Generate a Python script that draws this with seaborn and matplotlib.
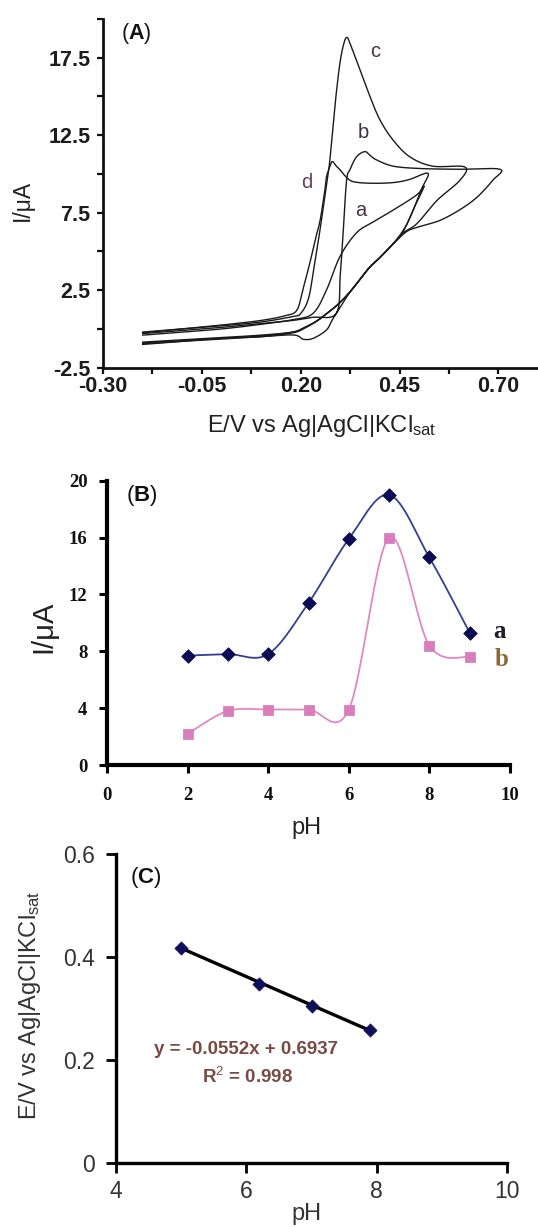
import numpy as np
import pandas as pd
import matplotlib
matplotlib.use("Agg")
import matplotlib.pyplot as plt
import seaborn as sns

# ---------------- data ----------------
# Panel A: cyclic voltammograms (E in V, I in uA), forward then reverse scan
cv_a_E = [-0.20, -0.10, 0.00, 0.10, 0.18, 0.231, 0.265, 0.299, 0.341, 0.383, 0.434, 0.493, 0.512,
          0.49, 0.465, 0.434, 0.40, 0.375, 0.35, 0.325, 0.295, 0.266, 0.24, 0.21, 0.18, 0.10, 0.0, -0.10, -0.20]
cv_a_I = [-0.4, -0.2, 0.0, 0.3, 0.6, 1.0, 2.5, 4.66, 6.2, 6.9, 7.67, 8.64, 9.2,
          8.0, 6.6, 5.5, 4.6, 4.0, 3.2, 2.4, 1.6, 1.0, 0.5, 0.1, -0.2, -0.45, -0.6, -0.75, -0.9]

cv_b_E = [-0.20, -0.10, 0.00, 0.10, 0.18, 0.23, 0.29, 0.30, 0.308, 0.316, 0.325, 0.341, 0.362, 0.375, 0.392,
          0.434, 0.50, 0.60, 0.704,
          0.686, 0.646, 0.603, 0.552, 0.50, 0.469, 0.434, 0.40, 0.375, 0.35, 0.325, 0.30, 0.28, 0.265,
          0.232, 0.207, 0.182, 0.10, 0.0, -0.10, -0.20]
cv_b_I = [-0.3, -0.1, 0.1, 0.35, 0.55, 0.75, 1.0, 3.5, 6.5, 9.6, 10.3, 11.1, 11.44, 11.2, 10.9,
          10.5, 10.35, 10.3, 10.3,
          9.6, 8.5, 7.7, 7.0, 6.6, 6.3, 5.5, 4.6, 4.0, 3.2, 2.4, 1.4, 0.6, -0.07,
          -0.6, -0.67, -0.39, -0.5, -0.65, -0.8, -0.95]

cv_c_E = [-0.20, -0.10, 0.00, 0.10, 0.18, 0.20, 0.22, 0.235, 0.25, 0.264, 0.272, 0.28, 0.289, 0.30, 0.31,
          0.317, 0.325, 0.35, 0.375, 0.40, 0.433, 0.476, 0.534, 0.615,
          0.603, 0.545, 0.494, 0.459, 0.434, 0.40, 0.375, 0.35, 0.325, 0.295, 0.266, 0.24, 0.21, 0.18,
          0.10, 0.0, -0.10, -0.20]
cv_c_I = [-0.2, 0.0, 0.2, 0.45, 0.8, 1.0, 2.0, 4.2, 6.6, 9.1, 10.5, 12.6, 15.0, 17.3, 18.5,
          18.8, 18.4, 16.7, 15.0, 13.5, 12.2, 11.1, 10.5, 10.45,
          9.6, 8.3, 6.8, 6.2, 5.5, 4.6, 4.0, 3.2, 2.4, 1.6, 1.0, 0.5, 0.05, -0.25,
          -0.5, -0.6, -0.8, -1.0]

cv_d_E = [-0.20, -0.10, 0.00, 0.10, 0.16, 0.19, 0.205, 0.223, 0.237, 0.249, 0.261, 0.265, 0.274, 0.28,
          0.29, 0.30, 0.315, 0.333, 0.375, 0.434, 0.476, 0.522,
          0.505, 0.48, 0.455, 0.434, 0.40, 0.375, 0.35, 0.325, 0.295, 0.266, 0.24, 0.21, 0.18,
          0.10, 0.0, -0.10, -0.20]
cv_d_I = [-0.25, 0.0, 0.25, 0.55, 0.85, 1.2, 2.5, 4.25, 5.8, 7.0, 8.95, 9.8, 10.5, 10.8,
          10.5, 10.25, 9.8, 9.5, 9.4, 9.44, 9.65, 10.04,
          9.0, 7.4, 6.1, 5.5, 4.6, 4.0, 3.2, 2.4, 1.6, 1.0, 0.5, 0.1, -0.2,
          -0.4, -0.55, -0.7, -0.85]

cv_names = ["a", "b", "c", "d"]

# Panel B: peak current vs pH
ph_b = [2, 3, 4, 5, 6, 7, 8, 9]
current_a = [7.7, 7.8, 7.8, 11.4, 15.9, 19.0, 14.6, 9.3]
current_b = [2.2, 3.8, 3.9, 3.9, 3.9, 16.0, 8.4, 7.6]

# Panel C: peak potential vs pH
ph_c = [5.0, 6.2, 7.0, 7.9]
potential_c = [0.418, 0.349, 0.305, 0.258]
fit_slope = -0.0552
fit_intercept = 0.6937
fit_r2 = 0.998

# tick labels
a_xticks = [-0.30, -0.05, 0.20, 0.45, 0.70]
a_yticks = [-2.5, 2.5, 7.5, 12.5, 17.5]
b_xticks = [0, 2, 4, 6, 8, 10]
b_yticks = [0, 4, 8, 12, 16, 20]
c_xticks = [4, 6, 8, 10]
c_yticks = [0, 0.2, 0.4, 0.6]


def catmull(x, y, n=25):
    P = np.column_stack([x, y]).astype(float)
    P = np.vstack([P[0], P, P[-1]])
    out = []
    t = np.linspace(0, 1, n)[:, None]
    for i in range(1, len(P) - 2):
        p0, p1, p2, p3 = P[i - 1], P[i], P[i + 1], P[i + 2]
        c = 0.5 * ((2 * p1) + (-p0 + p2) * t + (2 * p0 - 5 * p1 + 4 * p2 - p3) * t ** 2
                   + (-p0 + 3 * p1 - 3 * p2 + p3) * t ** 3)
        out.append(c if i == 1 else c[1:])
    arr = np.vstack(out)
    return arr[:, 0], arr[:, 1]


# ---------------- style ----------------
sns.set_theme(style="ticks")
plt.rcParams["font.family"] = ["Liberation Sans", "DejaVu Sans"]
plt.rcParams["mathtext.fontset"] = "custom"
plt.rcParams["mathtext.rm"] = "Liberation Sans"
plt.rcParams["mathtext.bf"] = "Liberation Sans:bold"
plt.rcParams["mathtext.it"] = "Liberation Sans:italic"

W, H = 538, 1227
fig = plt.figure(figsize=(W / 100, H / 100), dpi=100)


def px_axes(left, top, right, bottom):
    return fig.add_axes([left / W, 1 - bottom / H, (right - left) / W, (bottom - top) / H])


def ftext(x, y, s, **kw):
    fig.text(x / W, 1 - y / H, s, **kw)


# ---------------- Panel A ----------------
axA = px_axes(103, 18.9, 538, 367.7)
cv_sets = [(cv_a_E, cv_a_I), (cv_b_E, cv_b_I), (cv_c_E, cv_c_I), (cv_d_E, cv_d_I)]
for name, (E, I) in zip(cv_names, cv_sets):
    xs, ys = catmull(E, I, n=8)
    sns.lineplot(x=xs, y=ys, sort=False, estimator=None, color="#1a1a1a", lw=1.0, ax=axA)
axA.set_xlim(-0.30, 0.80)
axA.set_ylim(-2.5, 20)
axA.set_xticks(a_xticks)
axA.set_xticklabels([f"{v:.2f}" for v in a_xticks])
axA.set_xticks(np.arange(-0.30, 0.80, 0.125), minor=True)
axA.set_yticks(a_yticks)
axA.set_yticklabels([f"{v:.1f}" for v in a_yticks])
axA.set_yticks([0, 5, 10, 15, 20], minor=True)
for sp in ["top", "right"]:
    axA.spines[sp].set_visible(False)
for sp in ["left", "bottom"]:
    axA.spines[sp].set_linewidth(2.0)
    axA.spines[sp].set_color("#111111")
axA.tick_params(which="both", direction="out", length=4, width=1.6, color="#111111")
axA.tick_params(axis="y", which="major", pad=5)
axA.tick_params(axis="x", which="major", pad=2)
for lab in axA.get_xticklabels() + axA.get_yticklabels():
    lab.set_fontweight("bold")
    lab.set_fontsize(15.5)
    lab.set_color("#1c1c1c")
axA.set_xlabel("")
axA.set_ylabel("")
ftext(22, 200, "I/\u03bcA", fontsize=16.5, rotation=90, ha="center", va="center", color="#222222")
ftext(322, 426, r"E/V vs Ag|AgCl|KCl$_{\mathrm{sat}}$", fontsize=17, ha="center", va="center",
      color="#222222")
ftext(121, 33, r"($\mathbf{A}$)", fontsize=15.5, ha="left", va="center", color="#111111")

label_pos_A = {"c": (0.388, 17.87), "b": (0.357, 12.64), "d": (0.216, 9.42), "a": (0.352, 7.67)}
label_col_A = {"c": "#4a3344", "b": "#3e2f4a", "d": "#6b3d5e", "a": "#4a3344"}
for k, (ex, iy) in label_pos_A.items():
    axA.text(ex, iy, k, fontsize=14.5, ha="center", va="center", color=label_col_A[k])

# ---------------- Panel B ----------------
axB = px_axes(107, 480.7, 510, 765)
xa, ya = catmull(ph_b, current_a)
xb, yb = catmull(ph_b, current_b)
sns.lineplot(x=xa, y=ya, sort=False, estimator=None, color="#34408f", lw=1.3, ax=axB)
sns.lineplot(x=xb, y=yb, sort=False, estimator=None, color="#e088c4", lw=1.3, ax=axB)
sns.scatterplot(x=ph_b, y=current_a, marker="D", s=48, color="#0c0c55", edgecolor="#0c0c55", ax=axB,
                zorder=5)
sns.scatterplot(x=ph_b, y=current_b, marker="s", s=50, color="#d97dbb", edgecolor="#d97dbb", ax=axB,
                zorder=5)
axB.set_xlim(0, 10)
axB.set_ylim(0, 20)
axB.set_xticks(b_xticks)
axB.set_yticks(b_yticks)
for sp in ["top", "right"]:
    axB.spines[sp].set_visible(False)
for sp in ["left", "bottom"]:
    axB.spines[sp].set_linewidth(3.0)
    axB.spines[sp].set_color("#000000")
axB.tick_params(direction="out", length=6, width=2.2, color="#000000")
axB.tick_params(axis="x", pad=10)
axB.tick_params(axis="y", pad=8)
for lab in axB.get_xticklabels() + axB.get_yticklabels():
    lab.set_family(["Liberation Serif", "DejaVu Serif"])
    lab.set_fontweight("bold")
    lab.set_fontsize(13.5)
    lab.set_color("#111111")
axB.set_xlabel("")
axB.set_ylabel("")
ftext(43, 627, "I/\u03bcA", fontsize=21, rotation=90, ha="center", va="center", color="#222222")
ftext(306, 828, "pH", fontsize=17, ha="center", va="center", color="#222222")
ftext(126, 495, r"($\mathbf{B}$)", fontsize=16, ha="left", va="center", color="#111111")
axB.text(9.75, 9.37, "a", family=["Liberation Serif", "DejaVu Serif"], fontweight="bold",
         fontsize=18, ha="center", va="center", color="#1c1c2c")
axB.text(9.8, 7.4, "b", family=["Liberation Serif", "DejaVu Serif"], fontweight="bold",
         fontsize=18, ha="center", va="center", color="#8a6a3a")

# ---------------- Panel C ----------------
axC = px_axes(116, 854.3, 507, 1163.3)
fit_x = np.array([ph_c[0], ph_c[-1]])
fit_y = fit_slope * fit_x + fit_intercept
sns.lineplot(x=fit_x, y=fit_y, color="#000000", lw=2.4, ax=axC)
sns.scatterplot(x=ph_c, y=potential_c, marker="D", s=45, color="#10105a", edgecolor="#10105a", ax=axC,
                zorder=5)
axC.set_xlim(4, 10)
axC.set_ylim(0, 0.6)
axC.set_xticks(c_xticks)
axC.set_yticks(c_yticks)
axC.set_xticklabels([str(v) for v in c_xticks])
axC.set_yticklabels(["0", "0.2", "0.4", "0.6"])
for sp in ["top", "right"]:
    axC.spines[sp].set_visible(False)
for sp in ["left", "bottom"]:
    axC.spines[sp].set_linewidth(2.4)
    axC.spines[sp].set_color("#000000")
axC.tick_params(direction="out", length=7, width=2.0, color="#000000")
axC.tick_params(axis="x", pad=5)
axC.tick_params(axis="y", pad=8)
for lab in axC.get_xticklabels() + axC.get_yticklabels():
    lab.set_fontsize(16.5)
    lab.set_color("#333333")
axC.set_xlabel("")
axC.set_ylabel("")
ftext(30, 1005, r"E/V vs Ag|AgCl|KCl$_{\mathrm{sat}}$", fontsize=17, rotation=90, ha="center",
      va="center", color="#333333")
ftext(306, 1214, "pH", fontsize=17, ha="center", va="center", color="#333333")
ftext(130, 878, r"($\mathbf{C}$)", fontsize=16, ha="left", va="center", color="#111111")
axC.text(5.99, 0.22, f"y = {fit_slope:.4f}x + {fit_intercept:.4f}", fontsize=13.5, fontweight="bold",
         ha="center", va="center", color="#7a4a44")
axC.text(6.02, 0.168, f"R$^2$ = {fit_r2:.3f}", fontsize=13.5, fontweight="bold",
         ha="center", va="center", color="#7a4a44")

fig.savefig("out.png", dpi=100, facecolor="white")
